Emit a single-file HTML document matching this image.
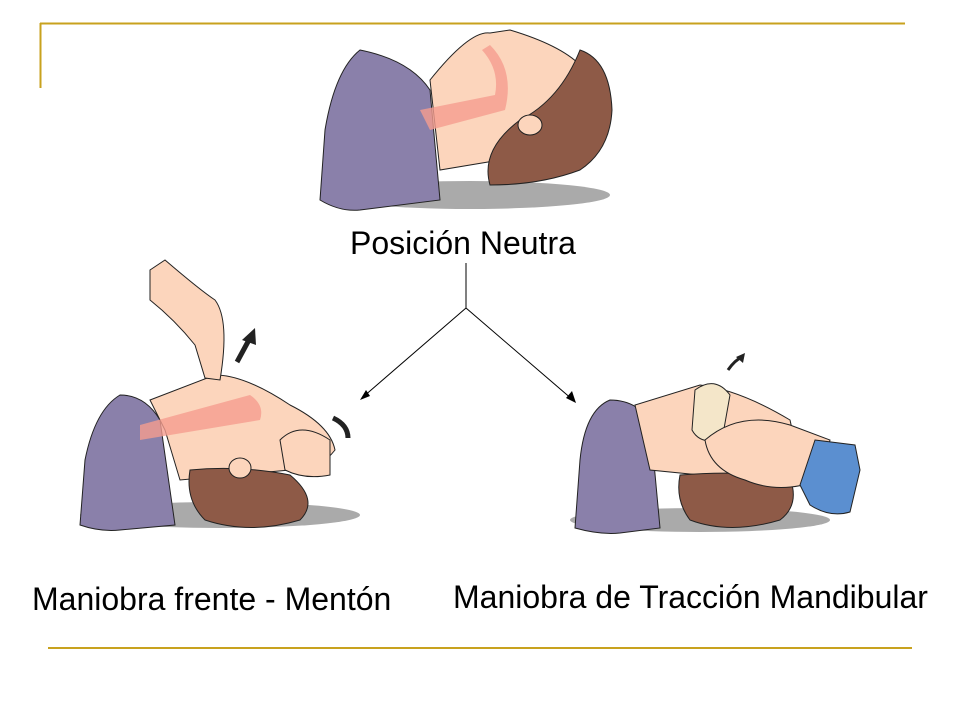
<!DOCTYPE html>
<html><head><meta charset="utf-8"><style>
html,body{margin:0;padding:0;background:#fff;}
body{width:960px;height:720px;position:relative;overflow:hidden;font-family:"Liberation Sans",sans-serif;}
.t{position:absolute;font-size:32px;color:#000;white-space:nowrap;line-height:1;}
</style></head><body>
<svg width="960" height="720" style="position:absolute;left:0;top:0">
<line x1="40" y1="23.5" x2="905" y2="23.5" stroke="#c8a21e" stroke-width="2"/>
<line x1="40.5" y1="23" x2="40.5" y2="88" stroke="#c8a21e" stroke-width="2"/>
<line x1="48" y1="648" x2="912" y2="648" stroke="#c8a21e" stroke-width="2"/>

<!-- top figure -->
<ellipse cx="470" cy="195" rx="140" ry="14" fill="#aaa"/>
<path d="M360 50 Q335 70 325 130 L320 200 Q340 212 360 210 L440 200 L430 90 Q410 60 360 50 Z" fill="#8a80aa" stroke="#222"/>
<path d="M430 80 Q470 30 490 33 L510 30 Q560 45 580 65 L600 100 Q590 140 560 150 L500 160 L440 170 Z" fill="#fcd5bc" stroke="#222"/>
<path d="M580 50 Q610 60 612 110 Q610 150 580 170 Q540 185 490 185 Q480 150 520 120 Q560 100 580 50 Z" fill="#8e5a47" stroke="#222"/>
<path d="M490 45 Q515 70 505 110 L430 130 L420 110 L495 95 Q500 70 482 50 Z" fill="#f59c8e" opacity=".8"/>
<ellipse cx="530" cy="125" rx="12" ry="10" fill="#fcd5bc" stroke="#222"/>

<!-- connector -->
<line x1="466" y1="263" x2="466" y2="308" stroke="#000"/>
<line x1="466" y1="308" x2="363" y2="397" stroke="#000"/>
<line x1="466" y1="308" x2="573" y2="400" stroke="#000"/>
<polygon points="360,400 366,390 370,396" fill="#000"/>
<polygon points="576,403 566,398 572,391" fill="#000"/>

<!-- left figure -->
<ellipse cx="220" cy="515" rx="140" ry="13" fill="#aaa"/>
<path d="M120 395 Q95 410 85 460 L80 525 Q100 532 120 530 L175 525 L160 420 Q145 395 120 395 Z" fill="#8a80aa" stroke="#222"/>
<path d="M150 400 L215 375 Q245 375 290 405 Q330 425 335 450 Q320 470 290 470 L180 480 L165 430 Z" fill="#fcd5bc" stroke="#222"/>
<path d="M190 470 Q240 465 290 475 Q320 500 300 520 Q250 535 205 520 Q185 500 190 470 Z" fill="#8e5a47" stroke="#222"/>
<path d="M140 425 L250 395 Q265 405 260 420 L140 440 Z" fill="#f59c8e" opacity=".8"/>
<ellipse cx="240" cy="468" rx="11" ry="10" fill="#fcd5bc" stroke="#222"/>
<path d="M150 270 L165 260 Q200 290 215 300 Q230 320 220 380 L205 378 L195 345 Q175 320 150 300 Z" fill="#fcd5bc" stroke="#222"/>
<path d="M280 440 Q300 420 330 440 L330 475 Q305 480 285 470 Z" fill="#fcd5bc" stroke="#222"/>
<line x1="237" y1="362" x2="250" y2="338" stroke="#222" stroke-width="5"/>
<polygon points="255,328 242,340 256,345" fill="#222"/>
<path d="M333 418 Q348 425 348 438" stroke="#222" stroke-width="5" fill="none"/>

<!-- right figure -->
<ellipse cx="700" cy="520" rx="130" ry="12" fill="#aaa"/>
<path d="M610 400 Q585 410 580 460 L575 528 Q600 535 620 533 L660 528 L650 420 Q635 400 610 400 Z" fill="#8a80aa" stroke="#222"/>
<path d="M635 405 L700 385 Q740 390 790 420 L800 465 Q760 480 700 475 L650 470 Z" fill="#fcd5bc" stroke="#222"/>
<path d="M680 475 Q740 470 790 478 Q800 505 780 520 Q730 535 690 520 Q675 500 680 475 Z" fill="#8e5a47" stroke="#222"/>
<path d="M695 390 Q715 375 730 395 L722 440 Q700 445 692 430 Z" fill="#f4e6c9" stroke="#222"/>
<path d="M705 440 Q740 410 790 425 L830 440 L820 480 Q780 495 745 480 Q710 470 705 440 Z" fill="#fcd5bc" stroke="#222"/>
<path d="M815 440 L855 445 L860 470 L850 512 Q830 518 810 505 L800 485 Z" fill="#5b8fd0" stroke="#222"/>
<path d="M728 370 Q735 360 742 357" stroke="#222" stroke-width="3" fill="none"/>
<polygon points="745,353 736,357 743,363" fill="#222"/>
</svg>
<div class="t" style="left:350px;top:227px;">Posición Neutra</div>
<div class="t" style="left:32px;top:583px;">Maniobra frente - Mentón</div>
<div class="t" style="left:453px;top:581px;">Maniobra de Tracción Mandibular</div>
</body></html>
